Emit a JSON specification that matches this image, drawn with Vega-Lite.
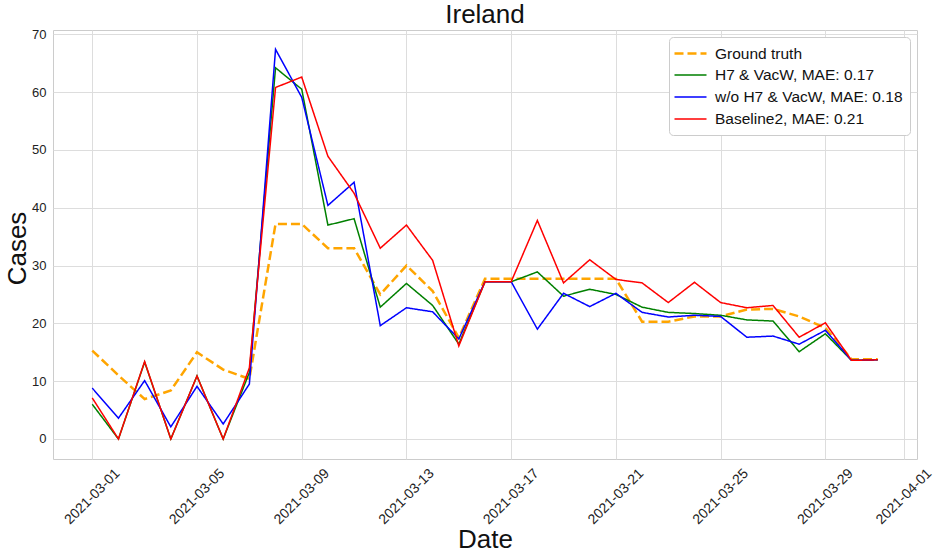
{
  "$schema": "https://vega.github.io/schema/vega-lite/v6.json",
  "width": 864,
  "height": 429,
  "autosize": {"type": "none"},
  "padding": {"left": 53, "top": 30, "right": 18, "bottom": 93},
  "background": "white",
  "title": {
    "text": "Ireland",
    "fontSize": 26,
    "fontWeight": "normal",
    "font": "Liberation Sans",
    "color": "#111111",
    "baseline": "alphabetic",
    "frame": "group",
    "offset": 7,
    "dy": 28
  },
  "config": {
    "font": "Liberation Sans",
    "view": {"stroke": "#cccccc", "strokeWidth": 1},
    "axis": {
      "gridColor": "#dddddd",
      "gridWidth": 1,
      "domain": false,
      "ticks": false,
      "labelFont": "Liberation Sans",
      "labelFontSize": 13,
      "labelColor": "#222222",
      "titleFont": "Liberation Sans",
      "titleFontSize": 26,
      "titleFontWeight": "normal",
      "titleColor": "#111111"
    },
    "legend": {
      "orient": "top-right",
      "offset": 7,
      "padding": 7,
      "fillColor": "white",
      "strokeColor": "#cccccc",
      "cornerRadius": 4,
      "labelFont": "Liberation Sans",
      "labelFontSize": 15.5,
      "labelColor": "#111111",
      "labelLimit": 400,
      "labelOffset": 15,
      "rowPadding": 4,
      "symbolType": "M-2,0H2",
      "symbolSize": 256,
      "symbolStrokeWidth": 2,
      "symbolOffset": 5
    }
  },
  "data": {
    "values": [
      {"date": "2021-03-01", "series": "Ground truth", "cases": 15.3},
      {"date": "2021-03-02", "series": "Ground truth", "cases": 11.0},
      {"date": "2021-03-03", "series": "Ground truth", "cases": 6.9},
      {"date": "2021-03-04", "series": "Ground truth", "cases": 8.4},
      {"date": "2021-03-05", "series": "Ground truth", "cases": 15.0},
      {"date": "2021-03-06", "series": "Ground truth", "cases": 12.0},
      {"date": "2021-03-07", "series": "Ground truth", "cases": 10.4},
      {"date": "2021-03-08", "series": "Ground truth", "cases": 37.2},
      {"date": "2021-03-09", "series": "Ground truth", "cases": 37.2},
      {"date": "2021-03-10", "series": "Ground truth", "cases": 33.0},
      {"date": "2021-03-11", "series": "Ground truth", "cases": 33.0},
      {"date": "2021-03-12", "series": "Ground truth", "cases": 25.0},
      {"date": "2021-03-13", "series": "Ground truth", "cases": 30.0},
      {"date": "2021-03-14", "series": "Ground truth", "cases": 25.6},
      {"date": "2021-03-15", "series": "Ground truth", "cases": 17.5},
      {"date": "2021-03-16", "series": "Ground truth", "cases": 27.7},
      {"date": "2021-03-17", "series": "Ground truth", "cases": 27.7},
      {"date": "2021-03-18", "series": "Ground truth", "cases": 27.7},
      {"date": "2021-03-19", "series": "Ground truth", "cases": 27.7},
      {"date": "2021-03-20", "series": "Ground truth", "cases": 27.7},
      {"date": "2021-03-21", "series": "Ground truth", "cases": 27.7},
      {"date": "2021-03-22", "series": "Ground truth", "cases": 20.3},
      {"date": "2021-03-23", "series": "Ground truth", "cases": 20.3},
      {"date": "2021-03-24", "series": "Ground truth", "cases": 21.2},
      {"date": "2021-03-25", "series": "Ground truth", "cases": 21.2},
      {"date": "2021-03-26", "series": "Ground truth", "cases": 22.4},
      {"date": "2021-03-27", "series": "Ground truth", "cases": 22.5},
      {"date": "2021-03-28", "series": "Ground truth", "cases": 21.2},
      {"date": "2021-03-29", "series": "Ground truth", "cases": 19.2},
      {"date": "2021-03-30", "series": "Ground truth", "cases": 13.8},
      {"date": "2021-03-31", "series": "Ground truth", "cases": 13.8},

      {"date": "2021-03-01", "series": "H7 & VacW, MAE: 0.17", "cases": 6.0},
      {"date": "2021-03-02", "series": "H7 & VacW, MAE: 0.17", "cases": 0},
      {"date": "2021-03-03", "series": "H7 & VacW, MAE: 0.17", "cases": 13.3},
      {"date": "2021-03-04", "series": "H7 & VacW, MAE: 0.17", "cases": 0},
      {"date": "2021-03-05", "series": "H7 & VacW, MAE: 0.17", "cases": 10.9},
      {"date": "2021-03-06", "series": "H7 & VacW, MAE: 0.17", "cases": 0},
      {"date": "2021-03-07", "series": "H7 & VacW, MAE: 0.17", "cases": 11.5},
      {"date": "2021-03-08", "series": "H7 & VacW, MAE: 0.17", "cases": 64.2},
      {"date": "2021-03-09", "series": "H7 & VacW, MAE: 0.17", "cases": 60.5},
      {"date": "2021-03-10", "series": "H7 & VacW, MAE: 0.17", "cases": 37.0},
      {"date": "2021-03-11", "series": "H7 & VacW, MAE: 0.17", "cases": 38.1},
      {"date": "2021-03-12", "series": "H7 & VacW, MAE: 0.17", "cases": 22.8},
      {"date": "2021-03-13", "series": "H7 & VacW, MAE: 0.17", "cases": 26.9},
      {"date": "2021-03-14", "series": "H7 & VacW, MAE: 0.17", "cases": 23.1},
      {"date": "2021-03-15", "series": "H7 & VacW, MAE: 0.17", "cases": 16.4},
      {"date": "2021-03-16", "series": "H7 & VacW, MAE: 0.17", "cases": 27.2},
      {"date": "2021-03-17", "series": "H7 & VacW, MAE: 0.17", "cases": 27.2},
      {"date": "2021-03-18", "series": "H7 & VacW, MAE: 0.17", "cases": 28.9},
      {"date": "2021-03-19", "series": "H7 & VacW, MAE: 0.17", "cases": 24.7},
      {"date": "2021-03-20", "series": "H7 & VacW, MAE: 0.17", "cases": 25.9},
      {"date": "2021-03-21", "series": "H7 & VacW, MAE: 0.17", "cases": 25.0},
      {"date": "2021-03-22", "series": "H7 & VacW, MAE: 0.17", "cases": 22.8},
      {"date": "2021-03-23", "series": "H7 & VacW, MAE: 0.17", "cases": 21.9},
      {"date": "2021-03-24", "series": "H7 & VacW, MAE: 0.17", "cases": 21.7},
      {"date": "2021-03-25", "series": "H7 & VacW, MAE: 0.17", "cases": 21.4},
      {"date": "2021-03-26", "series": "H7 & VacW, MAE: 0.17", "cases": 20.6},
      {"date": "2021-03-27", "series": "H7 & VacW, MAE: 0.17", "cases": 20.4},
      {"date": "2021-03-28", "series": "H7 & VacW, MAE: 0.17", "cases": 15.1},
      {"date": "2021-03-29", "series": "H7 & VacW, MAE: 0.17", "cases": 18.2},
      {"date": "2021-03-30", "series": "H7 & VacW, MAE: 0.17", "cases": 13.6},
      {"date": "2021-03-31", "series": "H7 & VacW, MAE: 0.17", "cases": 13.7},

      {"date": "2021-03-01", "series": "w/o H7 & VacW, MAE: 0.18", "cases": 8.8},
      {"date": "2021-03-02", "series": "w/o H7 & VacW, MAE: 0.18", "cases": 3.6},
      {"date": "2021-03-03", "series": "w/o H7 & VacW, MAE: 0.18", "cases": 10.1},
      {"date": "2021-03-04", "series": "w/o H7 & VacW, MAE: 0.18", "cases": 2.1},
      {"date": "2021-03-05", "series": "w/o H7 & VacW, MAE: 0.18", "cases": 9.1},
      {"date": "2021-03-06", "series": "w/o H7 & VacW, MAE: 0.18", "cases": 2.6},
      {"date": "2021-03-07", "series": "w/o H7 & VacW, MAE: 0.18", "cases": 9.5},
      {"date": "2021-03-08", "series": "w/o H7 & VacW, MAE: 0.18", "cases": 67.4},
      {"date": "2021-03-09", "series": "w/o H7 & VacW, MAE: 0.18", "cases": 59.1},
      {"date": "2021-03-10", "series": "w/o H7 & VacW, MAE: 0.18", "cases": 40.4},
      {"date": "2021-03-11", "series": "w/o H7 & VacW, MAE: 0.18", "cases": 44.4},
      {"date": "2021-03-12", "series": "w/o H7 & VacW, MAE: 0.18", "cases": 19.6},
      {"date": "2021-03-13", "series": "w/o H7 & VacW, MAE: 0.18", "cases": 22.7},
      {"date": "2021-03-14", "series": "w/o H7 & VacW, MAE: 0.18", "cases": 22.0},
      {"date": "2021-03-15", "series": "w/o H7 & VacW, MAE: 0.18", "cases": 17.3},
      {"date": "2021-03-16", "series": "w/o H7 & VacW, MAE: 0.18", "cases": 27.2},
      {"date": "2021-03-17", "series": "w/o H7 & VacW, MAE: 0.18", "cases": 27.2},
      {"date": "2021-03-18", "series": "w/o H7 & VacW, MAE: 0.18", "cases": 19.0},
      {"date": "2021-03-19", "series": "w/o H7 & VacW, MAE: 0.18", "cases": 25.2},
      {"date": "2021-03-20", "series": "w/o H7 & VacW, MAE: 0.18", "cases": 22.9},
      {"date": "2021-03-21", "series": "w/o H7 & VacW, MAE: 0.18", "cases": 25.2},
      {"date": "2021-03-22", "series": "w/o H7 & VacW, MAE: 0.18", "cases": 21.9},
      {"date": "2021-03-23", "series": "w/o H7 & VacW, MAE: 0.18", "cases": 21.1},
      {"date": "2021-03-24", "series": "w/o H7 & VacW, MAE: 0.18", "cases": 21.4},
      {"date": "2021-03-25", "series": "w/o H7 & VacW, MAE: 0.18", "cases": 21.2},
      {"date": "2021-03-26", "series": "w/o H7 & VacW, MAE: 0.18", "cases": 17.6},
      {"date": "2021-03-27", "series": "w/o H7 & VacW, MAE: 0.18", "cases": 17.8},
      {"date": "2021-03-28", "series": "w/o H7 & VacW, MAE: 0.18", "cases": 16.4},
      {"date": "2021-03-29", "series": "w/o H7 & VacW, MAE: 0.18", "cases": 18.8},
      {"date": "2021-03-30", "series": "w/o H7 & VacW, MAE: 0.18", "cases": 13.6},
      {"date": "2021-03-31", "series": "w/o H7 & VacW, MAE: 0.18", "cases": 13.7},

      {"date": "2021-03-01", "series": "Baseline2, MAE: 0.21", "cases": 7.1},
      {"date": "2021-03-02", "series": "Baseline2, MAE: 0.21", "cases": 0},
      {"date": "2021-03-03", "series": "Baseline2, MAE: 0.21", "cases": 13.4},
      {"date": "2021-03-04", "series": "Baseline2, MAE: 0.21", "cases": 0},
      {"date": "2021-03-05", "series": "Baseline2, MAE: 0.21", "cases": 10.9},
      {"date": "2021-03-06", "series": "Baseline2, MAE: 0.21", "cases": 0},
      {"date": "2021-03-07", "series": "Baseline2, MAE: 0.21", "cases": 12.3},
      {"date": "2021-03-08", "series": "Baseline2, MAE: 0.21", "cases": 60.8},
      {"date": "2021-03-09", "series": "Baseline2, MAE: 0.21", "cases": 62.6},
      {"date": "2021-03-10", "series": "Baseline2, MAE: 0.21", "cases": 48.9},
      {"date": "2021-03-11", "series": "Baseline2, MAE: 0.21", "cases": 42.5},
      {"date": "2021-03-12", "series": "Baseline2, MAE: 0.21", "cases": 33.0},
      {"date": "2021-03-13", "series": "Baseline2, MAE: 0.21", "cases": 37.0},
      {"date": "2021-03-14", "series": "Baseline2, MAE: 0.21", "cases": 30.9},
      {"date": "2021-03-15", "series": "Baseline2, MAE: 0.21", "cases": 16.1},
      {"date": "2021-03-16", "series": "Baseline2, MAE: 0.21", "cases": 27.2},
      {"date": "2021-03-17", "series": "Baseline2, MAE: 0.21", "cases": 27.2},
      {"date": "2021-03-18", "series": "Baseline2, MAE: 0.21", "cases": 37.8},
      {"date": "2021-03-19", "series": "Baseline2, MAE: 0.21", "cases": 27.0},
      {"date": "2021-03-20", "series": "Baseline2, MAE: 0.21", "cases": 31.0},
      {"date": "2021-03-21", "series": "Baseline2, MAE: 0.21", "cases": 27.6},
      {"date": "2021-03-22", "series": "Baseline2, MAE: 0.21", "cases": 27.0},
      {"date": "2021-03-23", "series": "Baseline2, MAE: 0.21", "cases": 23.6},
      {"date": "2021-03-24", "series": "Baseline2, MAE: 0.21", "cases": 27.1},
      {"date": "2021-03-25", "series": "Baseline2, MAE: 0.21", "cases": 23.6},
      {"date": "2021-03-26", "series": "Baseline2, MAE: 0.21", "cases": 22.7},
      {"date": "2021-03-27", "series": "Baseline2, MAE: 0.21", "cases": 23.1},
      {"date": "2021-03-28", "series": "Baseline2, MAE: 0.21", "cases": 17.6},
      {"date": "2021-03-29", "series": "Baseline2, MAE: 0.21", "cases": 20.1},
      {"date": "2021-03-30", "series": "Baseline2, MAE: 0.21", "cases": 13.6},
      {"date": "2021-03-31", "series": "Baseline2, MAE: 0.21", "cases": 13.7}
    ]
  },
  "mark": {"type": "line"},
  "encoding": {
    "x": {
      "field": "date",
      "type": "temporal",
      "scale": {
        "type": "utc",
        "domain": [
          {"year": 2021, "month": 2, "date": 27, "hours": 12, "utc": true},
          {"year": 2021, "month": 4, "date": 1, "hours": 12, "utc": true}
        ]
      },
      "axis": {
        "title": "Date",
        "labelExpr": "utcFormat(datum.value, '%Y-%m-%d')",
        "values": [
          {"year": 2021, "month": 3, "date": 1, "utc": true},
          {"year": 2021, "month": 3, "date": 5, "utc": true},
          {"year": 2021, "month": 3, "date": 9, "utc": true},
          {"year": 2021, "month": 3, "date": 13, "utc": true},
          {"year": 2021, "month": 3, "date": 17, "utc": true},
          {"year": 2021, "month": 3, "date": 21, "utc": true},
          {"year": 2021, "month": 3, "date": 25, "utc": true},
          {"year": 2021, "month": 3, "date": 29, "utc": true},
          {"year": 2021, "month": 4, "date": 1, "utc": true}
        ],
        "labelFontSize": 14,
        "labelAngle": -45,
        "labelAlign": "right",
        "labelBaseline": "middle",
        "labelOffset": 25,
        "labelPadding": 12,
        "labelOverlap": false,
        "labelBound": false,
        "labelFlush": false,
        "titleX": 432,
        "titleY": 88,
        "titleBaseline": "alphabetic"
      }
    },
    "y": {
      "field": "cases",
      "type": "quantitative",
      "scale": {"domain": [-3.46, 70.74], "nice": false, "zero": false},
      "axis": {
        "title": "Cases",
        "values": [0, 10, 20, 30, 40, 50, 60, 70],
        "labelPadding": 7,
        "titleAngle": -90,
        "titleX": -28,
        "titleY": 218,
        "titleBaseline": "alphabetic"
      }
    },
    "color": {
      "field": "series",
      "type": "nominal",
      "sort": null,
      "scale": {
        "domain": ["Ground truth", "H7 & VacW, MAE: 0.17", "w/o H7 & VacW, MAE: 0.18", "Baseline2, MAE: 0.21"],
        "range": ["#FFA500", "#008000", "#0000FF", "#FF0000"]
      },
      "legend": {"title": null}
    },
    "strokeDash": {
      "field": "series",
      "type": "nominal",
      "sort": null,
      "scale": {
        "domain": ["Ground truth", "H7 & VacW, MAE: 0.17", "w/o H7 & VacW, MAE: 0.18", "Baseline2, MAE: 0.21"],
        "range": [[9, 4], [1, 0], [1, 0], [1, 0]]
      },
      "legend": {"title": null}
    },
    "strokeWidth": {
      "field": "series",
      "type": "nominal",
      "sort": null,
      "scale": {
        "type": "ordinal",
        "domain": ["Ground truth", "H7 & VacW, MAE: 0.17", "w/o H7 & VacW, MAE: 0.18", "Baseline2, MAE: 0.21"],
        "range": [2.5, 1.5, 1.5, 1.5]
      },
      "legend": null
    }
  }
}
